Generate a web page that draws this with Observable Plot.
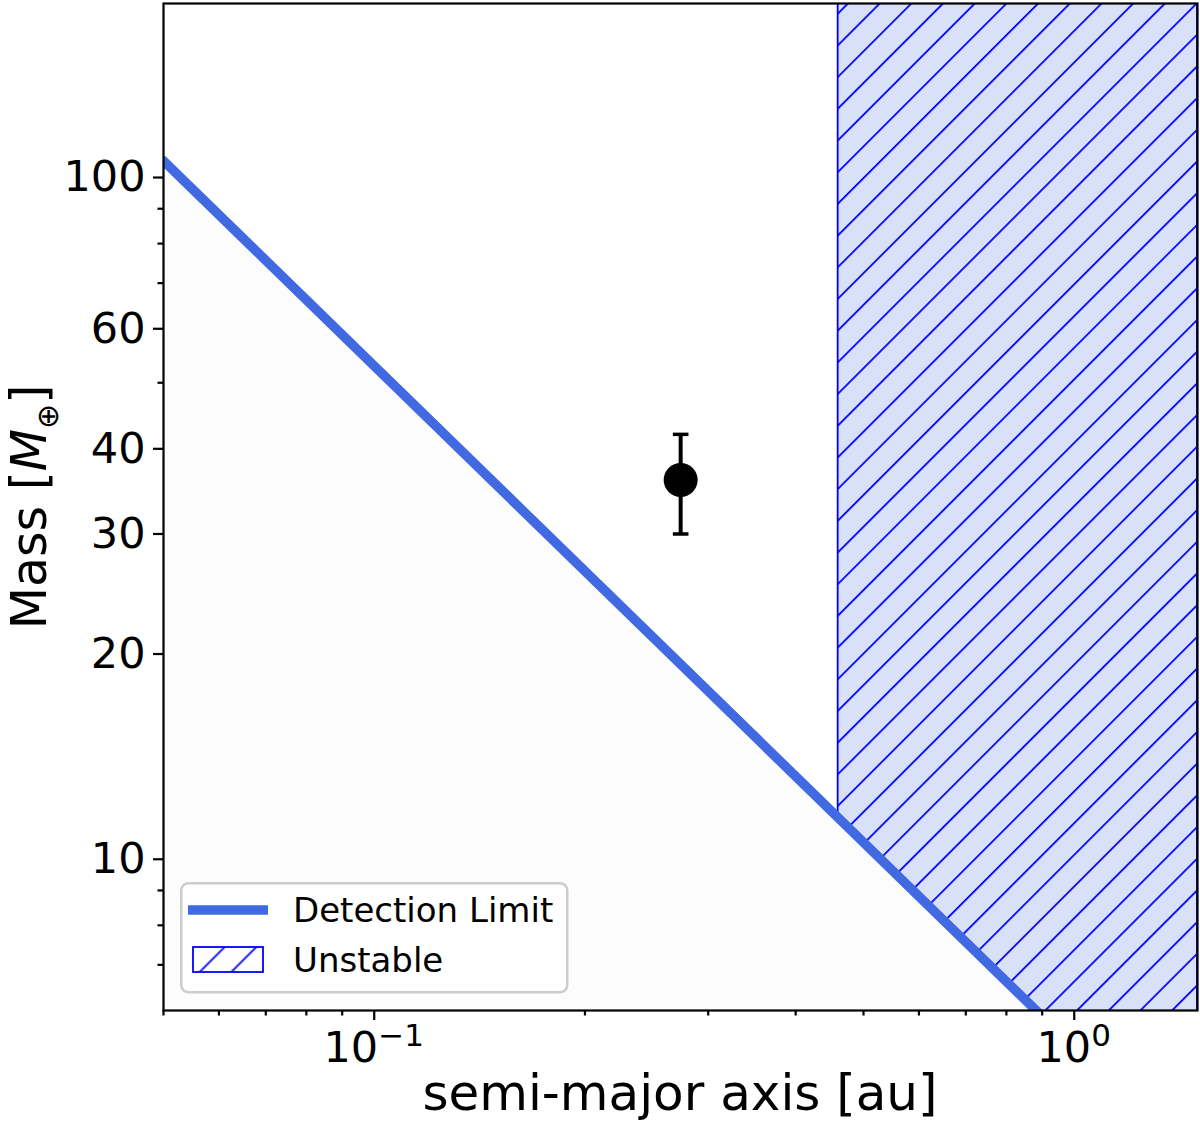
<!DOCTYPE html>
<html><head><meta charset="utf-8">
<script src="https://cdn.jsdelivr.net/npm/d3@7"></script>
<script src="https://cdn.jsdelivr.net/npm/@observablehq/plot@0.6"></script>
<style>
body{margin:0;background:white;}
#wrap{position:relative;width:1200px;height:1133px;}
#legend{position:absolute;left:180px;top:882px;}
</style></head><body><div id="wrap"></div>
<script>
// ---- data ----
const detA = [0.05, 1.5];          // detection limit line, semi-major axis [au]
const detM = [105.8, 3.53];        // detection limit line, mass [M_earth]
const unstA = [0.46, 1.5];         // unstable region x extent
const unstLow = [11.5, 3.53];      // lower boundary (detection limit)
const unstHigh = [180, 180];       // upper boundary (top of plot)
const planetA = [0.274];
const planetM = [36];
const planetLo = [30];
const planetHi = [42];
const xMajor = [0.1, 1];
const xMajorExp = ["\u22121", "0"];
const xMinor = [0.05,0.06,0.07,0.08,0.09,0.2,0.3,0.4,0.5,0.6,0.7,0.8,0.9];
const yMajor = [10,20,30,40,60,100];
const yMinor = [7,8,9,50,70,80,90];
const xDomain = [0.05, 1.5];
const yDomain = [6, 180];

const det = detA.map((a,i)=>({a, m: detM[i], base: yDomain[0]}));
const unst = unstA.map((a,i)=>({a, lo: unstLow[i], hi: unstHigh[i]}));
const planet = planetA.map((a,i)=>({a, m: planetM[i], lo: planetLo[i], hi: planetHi[i]}));

const cap = {draw(ctx, size){ const w = Math.sqrt(size/Math.PI); ctx.moveTo(-w,0); ctx.lineTo(w,0);} };

const plot = Plot.plot({
  width: 1200, height: 1133,
  marginLeft: 163, marginRight: 3, marginTop: 3, marginBottom: 123,
  x: {type: "log", domain: xDomain, label: null},
  y: {type: "log", domain: yDomain, label: null},
  style: {fontFamily: "DejaVu Sans", fontSize: "43px", background: "white", color: "black", overflow: "visible"},
  marks: [
    Plot.areaY(det, {x: "a", y1: "base", y2: "m", fill: "#fcfcfc", clip: true}),
    Plot.areaY(unst, {x: "a", y1: "lo", y2: "hi", fill: "url(#hatch)", stroke: "blue", strokeWidth: 1.8, clip: true}),
    Plot.line(det, {x: "a", y: "m", stroke: "#4169e1", strokeWidth: 9.5, clip: true}),
    Plot.ruleX(planet, {x: "a", y1: "lo", y2: "hi", stroke: "black", strokeWidth: 4}),
    Plot.dot(planet, {x: "a", y: "lo", symbol: cap, r: 7.8, stroke: "black", strokeWidth: 3.5, fill: "none"}),
    Plot.dot(planet, {x: "a", y: "hi", symbol: cap, r: 7.8, stroke: "black", strokeWidth: 3.5, fill: "none"}),
    Plot.dot(planet, {x: "a", y: "m", r: 17, fill: "black", stroke: "none"}),
    Plot.frame({stroke: "black", strokeWidth: 2.2}),
    Plot.axisY(yMajor, {tickSize: 10, tickPadding: 8, strokeWidth: 2.2, tickFormat: d => String(d), label: null, fontSize: 43}),
    Plot.axisY(yMinor, {tickSize: 5.5, strokeWidth: 2.2, tickFormat: () => "", label: null}),
    Plot.axisX(xMajor, {tickSize: 10, strokeWidth: 2.2, tickFormat: () => "", label: null}),
    Plot.axisX(xMinor, {tickSize: 5.5, strokeWidth: 2.2, tickFormat: () => "", label: null})
  ]
});

document.getElementById("wrap").appendChild(plot);
const svg = d3.select(plot);

// hatch pattern
const defs = svg.insert("defs", ":first-child");
const pat = defs.append("pattern").attr("id", "hatch").attr("patternUnits", "userSpaceOnUse")
  .attr("width", 22.41).attr("height", 22.41).attr("patternTransform", "rotate(45)");
pat.append("rect").attr("width", 22.41).attr("height", 22.41).attr("fill", "#d9e1f9");
pat.append("line").attr("x1", 19.4).attr("x2", 19.4).attr("y1", -1).attr("y2", 23.5)
  .attr("stroke", "blue").attr("stroke-width", 1.8);

// x tick labels with superscript exponents (positions from Plot's x scale)
const sx = plot.scale("x");
xMajor.forEach((v, i) => {
  const t = svg.append("text").attr("x", sx.apply(v)).attr("y", 1062)
    .attr("text-anchor", "middle").attr("font-size", 43).attr("fill", "black");
  t.append("tspan").text("10");
  t.append("tspan").attr("font-size", 31).attr("dy", -16).text(xMajorExp[i]);
});

// axis labels
svg.append("text").attr("x", 680).attr("y", 1110).attr("text-anchor", "middle")
  .attr("font-size", 50).attr("fill", "black").text("semi-major axis [au]");
const yl = svg.append("text").attr("transform", "translate(46,507) rotate(-90)")
  .attr("text-anchor", "middle").attr("font-size", 49).attr("fill", "black");
yl.append("tspan").text("Mass [");
yl.append("tspan").attr("font-style", "italic").text("M");
yl.append("tspan").attr("font-size", 30).attr("dy", 12).text("\u2295");
yl.append("tspan").attr("dy", -12).text("]");

// legend
const lg = d3.select("#wrap").append("svg").attr("id", "legend")
  .attr("width", 390).attr("height", 113)
  .style("font-family", "DejaVu Sans");
const ldefs = lg.append("defs");
const lp = ldefs.append("pattern").attr("id", "hatchL").attr("patternUnits", "userSpaceOnUse")
  .attr("width", 22.41).attr("height", 22.41).attr("patternTransform", "rotate(45)");
lp.append("line").attr("x1", 10.3).attr("x2", 10.3).attr("y1", -1).attr("y2", 23.5)
  .attr("stroke", "blue").attr("stroke-width", 1.8);
lg.append("rect").attr("x", 1.25).attr("y", 1.25).attr("width", 386).attr("height", 109)
  .attr("rx", 7).attr("fill", "white").attr("fill-opacity", 0.8)
  .attr("stroke", "#cccccc").attr("stroke-width", 2.5);
lg.append("line").attr("x1", 8).attr("x2", 88).attr("y1", 28).attr("y2", 28)
  .attr("stroke", "#4169e1").attr("stroke-width", 9.5);
lg.append("text").attr("x", 113).attr("y", 40).attr("font-size", 34).text("Detection Limit");
lg.append("rect").attr("x", 13).attr("y", 65).attr("width", 70).attr("height", 25)
  .attr("fill", "url(#hatchL)").attr("stroke", "blue").attr("stroke-width", 1.8);
lg.append("text").attr("x", 113).attr("y", 90).attr("font-size", 34).text("Unstable");
</script>
</body></html>
